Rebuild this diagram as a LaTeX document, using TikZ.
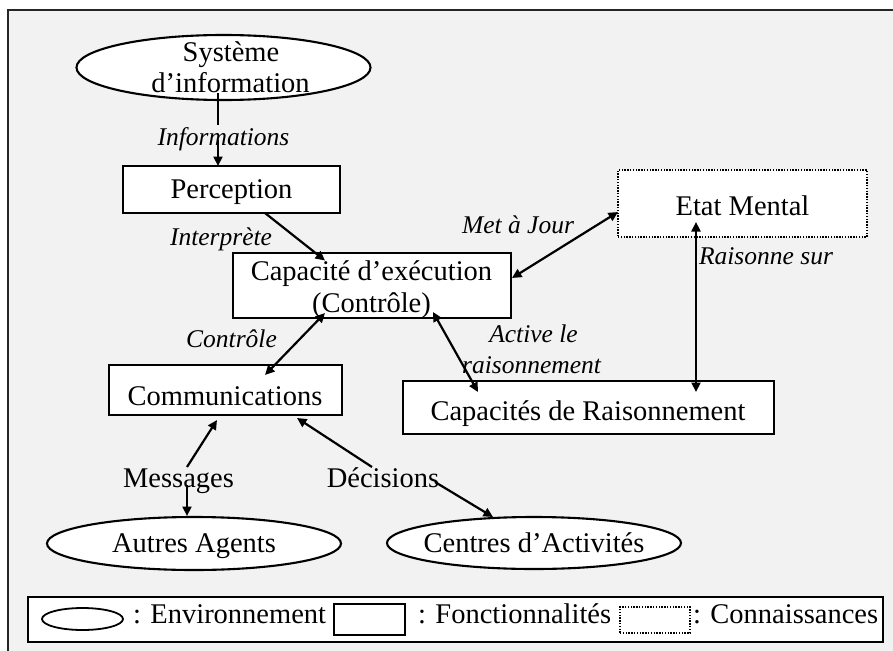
\documentclass[tikz,border=0pt]{standalone}
\usepackage{fontspec}
\setmainfont{Liberation Serif}
\usetikzlibrary{arrows.meta,shapes.geometric}
\definecolor{panel}{HTML}{F2F2F2}
\begin{document}
\begin{tikzpicture}[x=1pt,y=-1pt,
  every node/.style={inner sep=0pt, outer sep=0pt},
  txt/.style={font=\fontsize{28.5}{32}\selectfont, anchor=base},
  lbl/.style={font=\fontsize{25.5}{30}\selectfont\itshape, anchor=base},
  func/.style={draw, line width=2.1pt, fill=white, rectangle},
  env/.style={draw, line width=2.1pt, fill=white, ellipse},
  know/.style={draw, line width=1.6pt, fill=white, rectangle, dash pattern=on 1.4pt off 1.4pt},
  link/.style={line width=2.2pt},
  tip/.tip={Triangle[length=9.5pt,width=9pt]},
  arr/.style={link, -tip},
  biarr/.style={link, tip-tip},
]
\useasboundingbox (0,0) rectangle (893,650);
% panel
\draw[line width=2.2pt, draw=black!85, fill=panel] (8,10) rectangle (905,665);

% shapes
\node[env, minimum width=294, minimum height=65] (sys) at (223.5,67.5) {};
\node[func, minimum width=217, minimum height=47] (perc) at (231.5,189.5) {};
\node[func, minimum width=278, minimum height=65] (cap) at (372,285.5) {};
\node[know, minimum width=249, minimum height=67] (etat) at (742.5,203.5) {};
\node[func, minimum width=371, minimum height=53] (raison) at (588.5,407.5) {};
\node[func, minimum width=233, minimum height=50] (comms) at (225.5,390) {};
\node[env, minimum width=294, minimum height=53] (agents) at (194,543.5) {};
\node[env, minimum width=294, minimum height=52] (centres) at (534,543) {};

% texts of the shapes
\node[txt] (sys1) at (231,62) {Système};
\node[txt] (sys2) at (230.5,93) {d’information};
\node[txt] (perct) at (231.5,198) {Perception};
\node[txt] (cap1) at (371.5,280) {Capacité d’exécution};
\node[txt] (cap2) at (371.5,312) {(Contrôle)};
\node[txt] (etatt) at (742.5,215) {Etat Mental};
\node[txt] (raisont) at (588,420) {Capacités de Raisonnement};
\node[txt] (commst) at (225,405) {Communications};
\node[txt] (agentst) at (194,552) {Autres Agents};
\node[txt] (centrest) at (534,552) {Centres d’Activités};

% connector labels
\node[lbl] (infos) at (223.5,145) {Informations};
\node[lbl] (interp) at (221,245) {Interprète};
\node[lbl] (maj) at (518,233) {Met à Jour};
\node[lbl] (rsur) at (766,264) {Raisonne sur};
\node[lbl] (act1) at (533.5,342) {Active le};
\node[lbl] (act2) at (531.5,373) {raisonnement};
\node[lbl] (ctrl) at (231.5,347) {Contrôle};
\node[txt] (msg) at (178.5,487) {Messages};
\node[txt] (dec) at (383,487) {Décisions};

% connectors
\draw[link] ([shift={(-5.5,25.5)}]sys.center) -- ([shift={(-5.5,-20)}]infos.base);
\draw[arr] ([shift={(-5.5,-5)}]infos.base) -- ([shift={(-13.5,-23.5)}]perc.center);
\draw[arr] ([shift={(33.5,23.5)}]perc.center) -- ([shift={(-47,-25)}]cap.center);
\draw[biarr] ([shift={(140,-7.5)}]cap.center) -- ([shift={(-124.5,8.5)}]etat.center);
\draw[biarr] ([shift={(-46.5,18.5)}]etat.center) -- ([shift={(107.5,-15.5)}]raison.center);
\draw[biarr] ([shift={(61,26.5)}]cap.center) -- ([shift={(-110.5,-15.5)}]raison.center);
\draw[biarr] ([shift={(-47,27.5)}]cap.center) -- ([shift={(39.5,-15)}]comms.center);
\draw[arr] ([shift={(8.5,-20)}]msg.base) -- ([shift={(-8.5,30)}]comms.center);
\draw[arr] ([shift={(8.5,-2)}]msg.base) -- ([shift={(-7,-27.5)}]agents.center);
\draw[arr] ([shift={(-11,-20)}]dec.base) -- ([shift={(71.5,28)}]comms.center);
\draw[arr] ([shift={(52,-5)}]dec.base) -- ([shift={(-41,-26)}]centres.center);

% legend
\node[func, minimum width=855, minimum height=45] (legend) at (455.5,619.5) {};
\node[env, line width=1.8pt, minimum width=81, minimum height=22] (legenv) at (82.5,619) {};
\node[txt, anchor=base west] (legenvt) at (133,623) {: Environnement};
\node[func, line width=1.8pt, minimum width=71, minimum height=31] (legfunc) at (369.5,619.5) {};
\node[txt, anchor=base west] (legfunct) at (418,623) {: Fonctionnalités};
\node[know, minimum width=70, minimum height=26] (legknow) at (655,620) {};
\node[txt, anchor=base west] (legknowt) at (693,623) {: Connaissances};
\end{tikzpicture}
\end{document}
